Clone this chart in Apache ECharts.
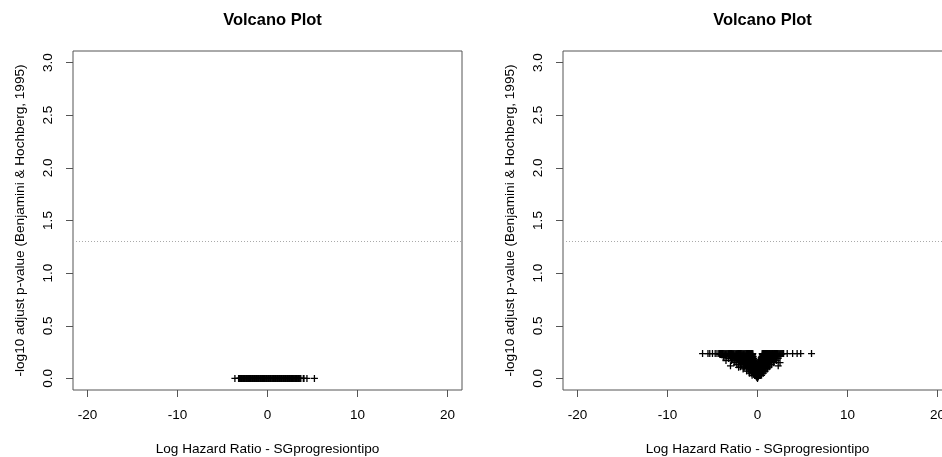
<!DOCTYPE html>
<html><head><meta charset="utf-8">
<script src="https://cdn.jsdelivr.net/npm/echarts@6/dist/echarts.min.js"></script>
<style>html,body{margin:0;padding:0;background:#fff}#c{width:942px;height:457px}</style>
</head><body><div id="c"></div>
<script>
// ---- data ----
const xTicks = [-20, -10, 0, 10, 20];
const yTicks = [0, 0.5, 1, 1.5, 2, 2.5, 3];
const threshold = 1.30103; // -log10(0.05)
const chartTitle = 'Volcano Plot';
const xTitle = 'Log Hazard Ratio - SGprogresiontipo';
const yTitle = '-log10 adjust p-value (Benjamini & Hochberg, 1995)';

// left panel: [log HR, -log10 adj p]
const leftPoints = [
  [-3.62,0],[-3.21,0],[-3.02,0],[-2.88,0],[-2.74,0],[-2.57,0],[-2.41,0],[-2.29,0],[-2.12,0],[-1.98,0],
  [-1.83,0],[-1.66,0],[-1.52,0],[-1.37,0],[-1.22,0],[-1.08,0],[-0.93,0],[-0.77,0],[-0.61,0],[-0.46,0],
  [-0.33,0],[-0.18,0],[-0.04,0],[0.12,0],[0.27,0],[0.41,0],[0.58,0],[0.72,0],[0.87,0],[1.03,0],
  [1.19,0],[1.34,0],[1.48,0],[1.63,0],[1.79,0],[1.94,0],[2.08,0],[2.24,0],[2.39,0],[2.53,0],
  [2.68,0],[2.84,0],[2.97,0],[3.13,0],[3.28,0],[3.44,0],[3.62,0],[3.98,0],[4.38,0],[5.21,0]
];
const leftPointsDense = [
  [-3.12,0],[-2.95,0],[-2.81,0],[-2.66,0],[-2.49,0],[-2.35,0],[-2.2,0],[-2.05,0],[-1.9,0],[-1.75,0],
  [-1.59,0],[-1.44,0],[-1.3,0],[-1.15,0],[-1.0,0],[-0.85,0],[-0.69,0],[-0.54,0],[-0.4,0],[-0.26,0],
  [-0.11,0],[0.04,0],[0.19,0],[0.34,0],[0.5,0],[0.65,0],[0.8,0],[0.95,0],[1.11,0],[1.26,0],
  [1.41,0],[1.56,0],[1.71,0],[1.86,0],[2.01,0],[2.16,0],[2.31,0],[2.46,0],[2.61,0],[2.76,0],
  [2.91,0],[3.05,0],[3.21,0],[3.36,0],[3.53,0],[3.7,0],[4.05,0]
];

// right panel: [log HR, -log10 adj p]
const rightTopRow = [
  [-6.1,0.236],[-5.5,0.236],[-5.3,0.236],[-5.0,0.236],[-4.7,0.236],[-4.5,0.236],[-4.3,0.236],[-4.1,0.236],
  [-3.9,0.236],[-3.7,0.236],[-3.5,0.236],[-3.3,0.236],[-3.1,0.236],[-2.9,0.236],[-2.7,0.236],[-2.5,0.236],
  [-2.3,0.236],[-2.1,0.236],[-1.9,0.236],[-1.7,0.236],[-1.5,0.236],[-1.3,0.236],[-1.1,0.236],[-0.9,0.236],
  [-0.75,0.236],[-0.6,0.236],[0.6,0.236],[0.75,0.236],[0.9,0.236],[1.05,0.236],[1.2,0.236],[1.35,0.236],
  [1.5,0.236],[1.65,0.236],[1.8,0.236],[1.95,0.236],[2.1,0.236],[2.3,0.236],[2.5,0.236],[2.7,0.236],
  [2.9,0.236],[3.3,0.236],[3.9,0.236],[4.4,0.236],[4.8,0.236],[6.0,0.236],
  [-4.2,0.236],[-4.0,0.236],[-3.8,0.236],[-3.6,0.236],[-3.4,0.236],[-3.2,0.236],[-3.0,0.236],[-2.8,0.236],
  [-2.6,0.236],[-2.4,0.236],[-2.2,0.236],[-2.0,0.236],[-1.8,0.236],[-1.6,0.236],[-1.4,0.236],[-1.2,0.236],
  [-1.0,0.236],[-0.85,0.236],[-0.68,0.236],[-0.52,0.236],[0.52,0.236],[0.68,0.236],[0.82,0.236],[0.98,0.236],
  [1.12,0.236],[1.28,0.236],[1.42,0.236],[1.58,0.236],[1.72,0.236],[1.88,0.236],[2.02,0.236],[2.2,0.236],
  [2.4,0.236],[2.6,0.236],[2.8,0.236]
];
const rightUpper = [
  [-4.2,0.23],[-3.9,0.23],[-3.5,0.23],[-3.1,0.23],[-2.7,0.23],[-2.3,0.23],[-1.9,0.23],[-1.5,0.23],[-1.1,0.23],
  [-0.7,0.23],[0.7,0.23],[1.0,0.23],[1.3,0.23],[1.6,0.23],[1.9,0.23],[2.2,0.23],[2.6,0.23],
  [-4.0,0.225],[-3.6,0.225],[-3.2,0.225],[-2.8,0.225],[-2.4,0.225],[-2.0,0.225],[-1.6,0.225],[-1.2,0.225],
  [-0.8,0.225],[-0.55,0.225],[0.55,0.225],[0.8,0.225],[1.1,0.225],[1.4,0.225],[1.7,0.225],[2.0,0.225],[2.4,0.225],
  [-3.0,0.215],[-2.6,0.215],[-2.1,0.215],[-1.7,0.215],[-1.4,0.215],[-1.1,0.215],[-0.75,0.215],[-0.6,0.215],
  [0.6,0.215],[0.7,0.215],[1.0,0.215],[1.35,0.215],[1.75,0.215],[2.2,0.215],
  [-3.7,0.21],[-3.4,0.21],[-2.9,0.21],[-2.3,0.21],[-1.8,0.21],[-1.3,0.21],[-0.9,0.21],[-0.5,0.21],[0.5,0.21],
  [0.85,0.21],[1.2,0.21],[1.6,0.21],[2.0,0.21],[2.5,0.21],
  [-2.8,0.205],[-2.2,0.205],[-1.7,0.205],[-1.2,0.205],[-0.8,0.205],[-0.5,0.205],[0.5,0.205],[0.7,0.205],
  [1.05,0.205],[1.5,0.205],[1.95,0.205],
  [-3.8,0.2],[-2.6,0.2],[-2.0,0.2],[-1.5,0.2],[-1.0,0.2],[-0.6,0.2],[0.45,0.2],[0.9,0.2],[1.3,0.2],[1.8,0.2],
  [-3.0,0.195],[-2.1,0.195],[-1.5,0.195],[-0.95,0.195],[-0.55,0.195],[0.4,0.195],[0.6,0.195],[0.95,0.195],
  [1.35,0.195],[1.9,0.195],
  [-3.2,0.19],[-2.8,0.19],[-2.4,0.19],[-1.8,0.19],[-1.2,0.19],[-0.7,0.19],[-0.45,0.19],[0.45,0.19],[0.75,0.19],
  [1.1,0.19],[1.6,0.19],[2.0,0.19],[2.3,0.19],
  [-2.6,0.185],[-1.9,0.185],[-1.3,0.185],[-0.8,0.185],[-0.42,0.185],[0.5,0.185],[0.95,0.185],[1.4,0.185],
  [-2.2,0.18],[-1.6,0.18],[-1.0,0.18],[-0.55,0.18],[0.4,0.18],[0.8,0.18],[1.2,0.18],[1.7,0.18],
  [-2.3,0.175],[-1.7,0.175],[-1.15,0.175],[-0.7,0.175],[-0.35,0.175],[0.35,0.175],[0.55,0.175],[0.9,0.175],
  [1.3,0.175],[1.9,0.175],
  [-3.5,0.17],[-2.9,0.17],[-2.5,0.17],[-2.0,0.17],[-1.4,0.17],[-0.9,0.17],[-0.45,0.17],[0.4,0.17],[0.7,0.17],
  [1.1,0.17],[1.5,0.17],[1.8,0.17],[2.1,0.17]
];
const rightLower = [
  [-1.9,0.165],[-1.5,0.165],[-1.0,0.165],[-0.55,0.165],[-0.3,0.165],[0.3,0.165],[0.5,0.165],[0.85,0.165],
  [1.2,0.165],[1.6,0.165],
  [-1.8,0.16],[-1.2,0.16],[-0.7,0.16],[-0.4,0.16],[0.35,0.16],[0.6,0.16],[1.0,0.16],[1.4,0.16],
  [-1.7,0.155],[-1.35,0.155],[-0.85,0.155],[-0.5,0.155],[0.25,0.155],[0.45,0.155],[0.8,0.155],[1.2,0.155],
  [-2.6,0.15],[-2.1,0.15],[-1.6,0.15],[-1.1,0.15],[-0.6,0.15],[0.3,0.15],[0.65,0.15],[1.0,0.15],[1.5,0.15],
  [1.8,0.15],[2.5,0.15],
  [-1.3,0.145],[-0.8,0.145],[-0.4,0.145],[0.2,0.145],[0.45,0.145],[0.75,0.145],[1.1,0.145],
  [-1.5,0.14],[-1.0,0.14],[-0.5,0.14],[-0.3,0.14],[0.3,0.14],[0.6,0.14],[0.9,0.14],[1.2,0.14],
  [-1.15,0.135],[-0.65,0.135],[-0.2,0.135],[0.4,0.135],[0.7,0.135],[1.0,0.135],
  [-2.3,0.13],[-1.8,0.13],[-1.3,0.13],[-0.85,0.13],[-0.45,0.13],[0.25,0.13],[0.55,0.13],[0.85,0.13],
  [1.3,0.13],[1.55,0.13],
  [-1.0,0.125],[-0.5,0.125],[-0.15,0.125],[0.35,0.125],[0.65,0.125],
  [-3.0,0.12],[-1.2,0.12],[-0.7,0.12],[-0.3,0.12],[0.2,0.12],[0.5,0.12],[0.9,0.12],[2.3,0.12],
  [-0.85,0.115],[-0.4,0.115],[0.3,0.115],[0.6,0.115],
  [-1.9,0.11],[-1.5,0.11],[-1.05,0.11],[-0.6,0.11],[-0.25,0.11],[0.2,0.11],[0.45,0.11],[0.75,0.11],
  [1.1,0.11],[1.3,0.11],[-2.1,0.105],
  [-1.5,0.1],[-1.2,0.1],[-0.9,0.1],[-0.5,0.1],[-0.2,0.1],[0.15,0.1],[0.4,0.1],[0.7,0.1],[0.9,0.1],[1.1,0.1],
  [-0.65,0.095],[-0.3,0.095],[0.25,0.095],[0.5,0.095],
  [-1.6,0.09],[-1.2,0.09],[-0.8,0.09],[-0.45,0.09],[-0.15,0.09],[0.15,0.09],[0.35,0.09],[0.6,0.09],
  [0.95,0.09],[1.1,0.09],
  [-0.55,0.085],[-0.2,0.085],[0.2,0.085],[0.45,0.085],
  [-0.7,0.08],[-0.35,0.08],[0.1,0.08],[0.3,0.08],[0.55,0.08],
  [-0.45,0.075],[-0.15,0.075],[0.2,0.075],[0.35,0.075],
  [-1.2,0.07],[-0.95,0.07],[-0.6,0.07],[-0.3,0.07],[0.1,0.07],[0.25,0.07],[0.45,0.07],[0.7,0.07],[0.85,0.07],
  [-0.4,0.065],[-0.1,0.065],[0.15,0.065],[0.3,0.065],
  [-0.5,0.06],[-0.25,0.06],[0.05,0.06],[0.2,0.06],[0.4,0.06],
  [-0.3,0.055],[0.1,0.055],[0.25,0.055],
  [-0.9,0.05],[-0.7,0.05],[-0.4,0.05],[-0.15,0.05],[0.15,0.05],[0.3,0.05],[0.5,0.05],[0.65,0.05],
  [-0.2,0.045],[0.05,0.045],[0.2,0.045],
  [-0.3,0.04],[-0.1,0.04],[0.1,0.04],[0.25,0.04],
  [-0.2,0.035],[0.15,0.035],
  [-0.6,0.03],[-0.25,0.03],[0.05,0.03],[0.2,0.03],[0.45,0.03],
  [-0.1,0.025],[0.1,0.025],
  [-0.15,0.02],[0.1,0.02],[-0.1,0.01],[0.05,0.01],[0.0,0.0]
];

// ---- chart ----
const FONT = 'Liberation Sans, Arial, sans-serif';
const plusSymbol = 'path://M5,0L5,10M0,5L10,5';
const panels = [
  { left: 73, points: leftPoints.concat(leftPointsDense) },
  { left: 563, points: rightTopRow.concat(rightUpper, rightLower) }
];

const option = {
  animation: false,
  backgroundColor: '#fff',
  title: panels.map(p => ({
    text: chartTitle, left: p.left + 194.5, top: 7, textAlign: 'center',
    textStyle: { fontSize: 16.5, fontWeight: 'bold', color: '#000', fontFamily: FONT }
  })),
  grid: panels.map(p => ({
    left: p.left, top: 51, width: 389, height: 339, show: true,
    outerBoundsMode: 'none', containLabel: false,
    borderColor: '#555', borderWidth: 1, backgroundColor: 'transparent'
  })),
  xAxis: panels.map((p, i) => ({
    gridIndex: i, type: 'value', min: -21.6, max: 21.6,
    axisLine: { show: false, onZero: false },
    splitLine: { show: false },
    axisTick: { show: true, customValues: xTicks, length: 7, lineStyle: { color: '#555' } },
    axisLabel: { customValues: xTicks, margin: 18, fontSize: 13.5, color: '#000', fontFamily: FONT },
    name: xTitle, nameLocation: 'middle', nameGap: 52,
    nameTextStyle: { fontSize: 13.6, color: '#000', fontFamily: FONT }
  })),
  yAxis: panels.map((p, i) => ({
    gridIndex: i, type: 'value', min: -0.11, max: 3.11,
    axisLine: { show: false, onZero: false },
    splitLine: { show: false },
    axisTick: { show: true, customValues: yTicks, length: 7, lineStyle: { color: '#555' } },
    axisLabel: { customValues: yTicks, rotate: 90, margin: 18, fontSize: 13.5, color: '#000', fontFamily: FONT,
      formatter: v => Number(v).toFixed(1) },
    name: yTitle, nameLocation: 'middle', nameGap: 46,
    nameTextStyle: { fontSize: 13.6, color: '#000', fontFamily: FONT }
  })),
  series: panels.map((p, i) => ({
    type: 'scatter', xAxisIndex: i, yAxisIndex: i, data: p.points,
    symbol: plusSymbol, symbolSize: 7, silent: true,
    itemStyle: { color: 'rgba(0,0,0,0)', borderColor: '#000', borderWidth: 1.3, opacity: 1 },
    markLine: {
      silent: true, symbol: 'none', label: { show: false },
      lineStyle: { type: [1, 2], color: '#aaa', width: 1 },
      data: [{ yAxis: threshold }]
    }
  }))
};
const chart = echarts.init(document.getElementById('c'), null, { renderer: 'canvas' });
chart.setOption(option);
</script></body></html>
